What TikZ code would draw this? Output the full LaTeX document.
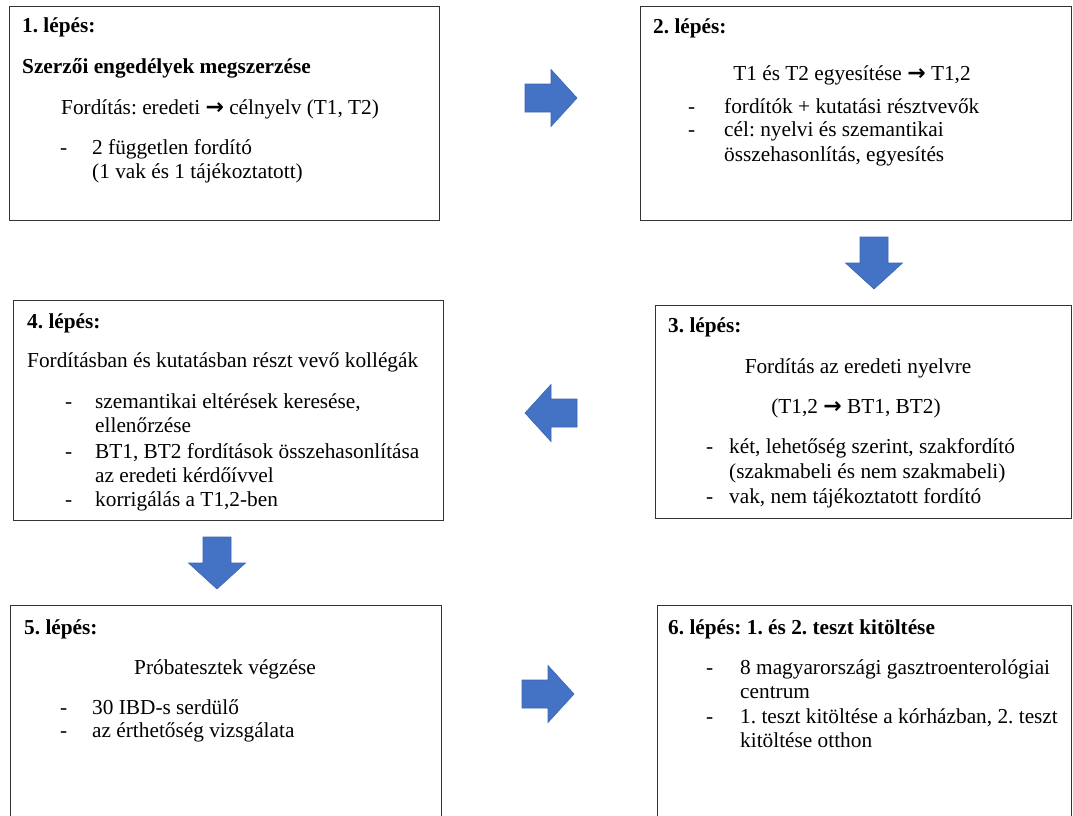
\documentclass[tikz,border=0pt]{standalone}
\usepackage{fontspec}
\setmainfont{Liberation Serif}
\newfontfamily\arrowfont{DejaVu Sans}
\newcommand{\ra}{{\arrowfont\bfseries\fontsize{22}{24}\selectfont →}}
\definecolor{arrowblue}{HTML}{4472C4}
\definecolor{arrowedge}{HTML}{3B65B3}
\frenchspacing
\tikzset{
  box/.style={draw=black!80, line width=1.3pt, fill=white, anchor=north west, inner sep=0pt},
  txt/.style={anchor=base west, inner sep=0pt, font=\fontsize{21.3}{24.5}\selectfont},
  ctxt/.style={anchor=base, inner sep=0pt, font=\fontsize{21.3}{24.5}\selectfont},
  ttl/.style={anchor=base west, inner sep=0pt, font=\fontsize{21.3}{24.5}\selectfont\bfseries},
  barrow/.style={fill=arrowblue, draw=arrowedge, line width=0.6pt, line join=miter},
  pics/arrR/.style={code={\path[barrow] (-26,-14) -- (0,-14) -- (0,-28.5) -- (26,0) -- (0,28.5) -- (0,14) -- (-26,14) -- cycle;}},
  pics/arrL/.style={code={\path[barrow] (26,-14) -- (0,-14) -- (0,-28.5) -- (-26,0) -- (0,28.5) -- (0,14) -- (26,14) -- cycle;}},
  pics/arrD/.style={code={\path[barrow] (-14,-26) -- (-14,0) -- (-28.5,0) -- (0,26) -- (28.5,0) -- (14,0) -- (14,-26) -- cycle;}},
}
\begin{document}
\frenchspacing
\begin{tikzpicture}[x=1pt,y=-1pt]
\useasboundingbox (0,0) rectangle (1073,816);
\clip (0,0) rectangle (1073,816);
\fill[white] (0,0) rectangle (1073,816);

% boxes
\node[box, minimum width=430pt, minimum height=214pt] (b1) at (9,6) {};
\node[box, minimum width=431pt, minimum height=214pt] (b2) at (640,6) {};
\node[box, minimum width=416pt, minimum height=213pt] (b3) at (655,305) {};
\node[box, minimum width=430pt, minimum height=220pt] (b4) at (13,300) {};
\node[box, minimum width=431pt, minimum height=240pt] (b5) at (10,605) {};
\node[box, minimum width=414pt, minimum height=240pt] (b6) at (657,605) {};

% block arrows
\pic (a12) at (551,98) {arrR};
\pic (a23) at (874,263) {arrD};
\pic (a34) at (551,413) {arrL};
\pic (a45) at (217,563) {arrD};
\pic (a56) at (548,694) {arrR};

% box 1
\node[ttl] (s1) at (22,33) {1. lépés:};
\node[ttl] (s1a) at (22,74) {Szerzői engedélyek megszerzése};
\node[txt] (s1b) at (61,114) {Fordítás: eredeti \ra{} célnyelv (T1, T2)};
\node[txt] (s1c) at (60,154) {-};
\node[txt] (s1d) at (92,154) {2 független fordító};
\node[txt] (s1e) at (92,178) {(1 vak és 1 tájékoztatott)};

% box 2
\node[ttl] (s2) at (653,34) {2. lépés:};
\node[ctxt] (s2a) at (852,81) {T1 és T2 egyesítése \ra{} T1,2};
\node[txt] (s2b) at (688,113) {-};
\node[txt] (s2c) at (724,113) {fordítók + kutatási résztvevők};
\node[txt] (s2d) at (688,136) {-};
\node[txt] (s2e) at (724,136) {cél: nyelvi és szemantikai};
\node[txt] (s2f) at (724,161) {összehasonlítás, egyesítés};

% box 3
\node[ttl] (s3) at (668,332) {3. lépés:};
\node[ctxt] (s3a) at (858,373) {Fordítás az eredeti nyelvre};
\node[ctxt] (s3b) at (856,413) {(T1,2 \ra{} BT1, BT2)};
\node[txt] (s3c) at (706,453) {-};
\node[txt] (s3d) at (729,453) {két, lehetőség szerint, szakfordító};
\node[txt] (s3e) at (729,478) {(szakmabeli és nem szakmabeli)};
\node[txt] (s3f) at (706,503) {-};
\node[txt] (s3g) at (729,503) {vak, nem tájékoztatott fordító};

% box 4
\node[ttl] (s4) at (27,328) {4. lépés:};
\node[txt] (s4a) at (27,367) {Fordításban és kutatásban részt vevő kollégák};
\node[txt] (s4b) at (65,408) {-};
\node[txt] (s4c) at (95,408) {szemantikai eltérések keresése,};
\node[txt] (s4d) at (95,432) {ellenőrzése};
\node[txt] (s4e) at (65,458) {-};
\node[txt] (s4f) at (95,458) {BT1, BT2 fordítások összehasonlítása};
\node[txt] (s4g) at (95,482) {az eredeti kérdőívvel};
\node[txt] (s4h) at (65,506) {-};
\node[txt] (s4i) at (95,506) {korrigálás a T1,2-ben};

% box 5
\node[ttl] (s5) at (24,634) {5. lépés:};
\node[ctxt] (s5a) at (225,674) {Próbatesztek végzése};
\node[txt] (s5b) at (60,714) {-};
\node[txt] (s5c) at (92,714) {30 IBD-s serdülő};
\node[txt] (s5d) at (60,737) {-};
\node[txt] (s5e) at (92,737) {az érthetőség vizsgálata};

% box 6
\node[ttl] (s6) at (668,634) {6. lépés: 1. és 2. teszt kitöltése};
\node[txt] (s6a) at (706,674) {-};
\node[txt] (s6b) at (740,674) {8 magyarországi gasztroenterológiai};
\node[txt] (s6c) at (740,698) {centrum};
\node[txt] (s6d) at (706,723) {-};
\node[txt] (s6e) at (740,723) {1. teszt kitöltése a kórházban, 2. teszt};
\node[txt] (s6f) at (740,747) {kitöltése otthon};
\end{tikzpicture}
\end{document}
